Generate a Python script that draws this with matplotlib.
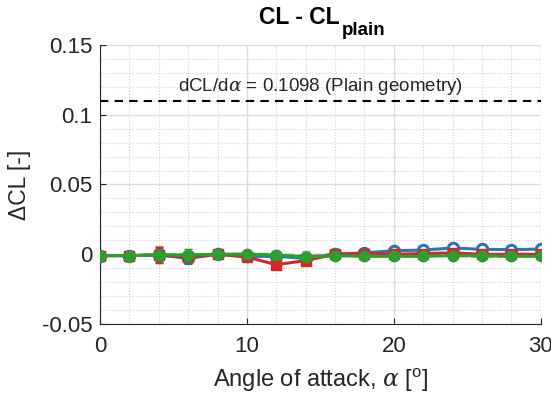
import matplotlib
matplotlib.use("Agg")
import matplotlib.pyplot as plt
import numpy as np

plt.rcParams['font.family'] = ['Liberation Sans', 'DejaVu Sans']
plt.rcParams['mathtext.fontset'] = 'custom'
plt.rcParams['mathtext.rm'] = 'Liberation Sans'
plt.rcParams['mathtext.bf'] = 'Liberation Sans:bold'
plt.rcParams['mathtext.it'] = 'DejaVu Serif:italic'

alpha = [0, 2, 4, 6, 8, 10, 12, 14, 16, 18, 20, 22, 24, 26, 28, 30]
blue = [-0.001, -0.001, -0.0005, -0.003, 0.0, -0.0015, -0.0015, -0.003, 0.0, 0.001, 0.0025, 0.003, 0.0045, 0.0035, 0.0033, 0.0037]
blue_err = [0.0005, 0.0005, 0.004, 0.003, 0.001, 0.001, 0.001, 0.003, 0.001, 0.001, 0.001, 0.001, 0.001, 0.001, 0.001, 0.001]
red = [-0.001, -0.001, -0.0005, -0.002, 0.0, -0.002, -0.0075, -0.0045, 0.0, 0.0005, 0.0, 0.0005, 0.001, 0.0, 0.0, 0.0]
red_err = [0.0005, 0.0005, 0.006, 0.003, 0.001, 0.001, 0.001, 0.002, 0.001, 0.001, 0.001, 0.001, 0.001, 0.001, 0.001, 0.001]
red_d = [-0.001, -0.001, -0.0003, -0.001, 0.0, 0.0, -0.0005, -0.001, 0.0, 0.001, 0.0, -0.0005, 0.0, -0.0005, -0.001, -0.001]
green = [-0.001, -0.001, -0.0005, -0.0005, 0.0, 0.0, -0.0005, -0.002, -0.001, -0.0015, -0.0015, -0.0015, -0.001, -0.001, -0.0015, -0.0015]
green_err = [0.0005, 0.0005, 0.003, 0.004, 0.001, 0.001, 0.001, 0.003, 0.001, 0.001, 0.001, 0.001, 0.001, 0.001, 0.001, 0.001]
green_d = [-0.001, -0.001, 0.0, 0.0, 0.0, 0.0005, 0.0, -0.001, -0.0015, -0.001, -0.0015, -0.001, -0.001, -0.002, -0.0015, -0.001]
slope_line = 0.11
slope_label = r'dCL/d$\alpha$ = 0.1098 (Plain geometry)'
title_main = 'CL - CL'
title_sub = 'plain'

W, H = 551, 405
fig = plt.figure(figsize=(W / 100, H / 100), dpi=100)
ax = fig.add_axes([0.1815, 0.2, 0.8, 0.689])

cb, cr, cg = '#2a76b8', '#d62728', '#2ca02c'
ax.errorbar(alpha, red_d, yerr=red_err, color='#e88080', ls='--', lw=1.8, marker='s', ms=5, capsize=3, zorder=2)
ax.errorbar(alpha, green_d, yerr=green_err, color='#7fc47f', ls='--', lw=1.8, marker='o', ms=5, capsize=3, zorder=2)
ax.errorbar(alpha, blue, yerr=blue_err, color=cb, ls='-', lw=2.2, marker='o', ms=7.5, mfc='white', mew=2.2, capsize=3, zorder=3)
ax.errorbar(alpha, red, yerr=red_err, color=cr, ls='-', lw=2.2, marker='s', ms=6.5, capsize=3, zorder=4)
ax.errorbar(alpha, green, yerr=green_err, color=cg, ls='-', lw=2.2, marker='o', ms=7.5, capsize=3, zorder=5)

ax.axhline(slope_line, color='black', ls='--', lw=1.5, dashes=(4, 3), zorder=1)
ax.text(15, 0.1125, slope_label, ha='center', va='bottom', fontsize=13.5, color='#262626')

ax.set_xlim(0, 30)
ax.set_ylim(-0.05, 0.15)
ax.set_xticks([0, 10, 20, 30])
ax.set_xticks(np.arange(0, 31, 2), minor=True)
ax.set_yticks([-0.05, 0, 0.05, 0.1, 0.15])
ax.set_yticklabels(['-0.05', '0', '0.05', '0.1', '0.15'])
ax.set_yticks(np.arange(-0.05, 0.151, 0.01), minor=True)
ax.grid(True, which='major', color='#dcdcdc', lw=1)
ax.grid(True, which='minor', color='#d0d0d0', lw=0.8, ls=':')
ax.tick_params(which='both', direction='in', labelsize=16, color='#262626', labelcolor='#262626', top=False, right=False)
ax.tick_params(which='minor', length=0)
ax.tick_params(which='major', length=4)
ax.tick_params(axis='x', which='major', pad=9)
ax.tick_params(axis='y', which='major', pad=5.5)
for s in ax.spines.values():
    s.set_visible(False)
ax.spines['left'].set_visible(True)
ax.spines['bottom'].set_visible(True)
ax.spines['left'].set_color('#262626')
ax.spines['bottom'].set_color('#262626')
ax.set_axisbelow(True)

ax.set_xlabel(r'Angle of attack, $\alpha$ [$^{\rm o}$]', fontsize=17, color='#262626', labelpad=7)
ax.set_ylabel('\u0394CL [-]', fontsize=16.5, color='#262626', labelpad=8)

fig.text(340 / W, 1 - 23.5 / H, title_main, ha='right', va='baseline', fontsize=16.5, fontweight='bold')
fig.text(342 / W, 1 - 35 / H, title_sub, ha='left', va='baseline', fontsize=13.5, fontweight='bold')

fig.savefig('out.png', dpi=100)
